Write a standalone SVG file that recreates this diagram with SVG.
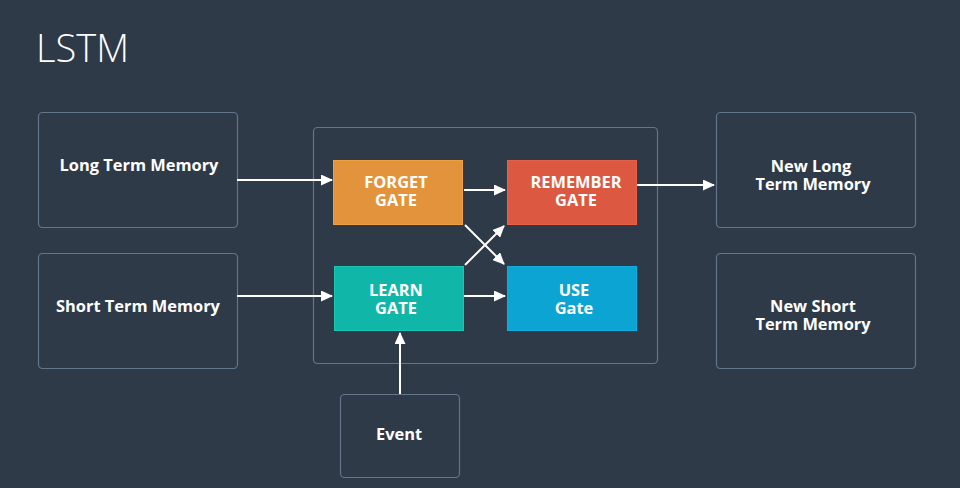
<svg xmlns="http://www.w3.org/2000/svg" width="960" height="488" viewBox="0 0 960 488">
<defs>
<marker id="ah" markerWidth="12" markerHeight="11" refX="11" refY="5.5" orient="auto" markerUnits="userSpaceOnUse" viewBox="0 0 12 11">
<path d="M0,0 L12,5.5 L0,11 z" fill="#ffffff"/>
</marker>
<style>
.box{fill:#2f3a48;stroke:#62758a;stroke-width:1.2}
.lbl{font-family:"Open Sans","Liberation Sans",sans-serif;font-weight:700;font-size:16.4px;fill:#ffffff;text-anchor:middle}
.conn{stroke:#ffffff;stroke-width:2;fill:none;marker-end:url(#ah)}
</style>
</defs>
<rect width="960" height="488" fill="#2e3a48"/>
<text x="36" y="62" font-family="'Open Sans','Liberation Sans',sans-serif" font-weight="300" font-size="38" fill="#ffffff">LSTM</text>
<g id="container"><rect class="box" x="313.5" y="127.5" width="344" height="236" rx="4"/></g>
<g id="ltm"><rect class="box" x="38.5" y="112.5" width="199" height="115" rx="4"/><text class="lbl" x="139" y="171">Long Term Memory</text></g>
<g id="stm"><rect class="box" x="38.5" y="253.5" width="199" height="115" rx="4"/><text class="lbl" x="138" y="312">Short Term Memory</text></g>
<g id="newltm"><rect class="box" x="716.5" y="112.5" width="199" height="115" rx="4"/><text class="lbl"><tspan x="811" y="172">New Long</tspan><tspan x="813" y="190">Term Memory</tspan></text></g>
<g id="newstm"><rect class="box" x="716.5" y="253.5" width="199" height="115" rx="4"/><text class="lbl"><tspan x="813" y="312">New Short</tspan><tspan x="813" y="330">Term Memory</tspan></text></g>
<g id="event"><rect class="box" x="340.5" y="394.5" width="119" height="83" rx="4"/><text class="lbl" x="399" y="440">Event</text></g>
<g id="forget"><rect x="333.5" y="160.5" width="129" height="64" fill="#e3933b" stroke="#f0a040"/><text class="lbl"><tspan x="396" y="188">FORGET</tspan><tspan x="396" y="206">GATE</tspan></text></g>
<g id="remember"><rect x="507.5" y="160.5" width="129" height="64" fill="#dc5841" stroke="#e8604a"/><text class="lbl"><tspan x="576" y="188">REMEMBER</tspan><tspan x="576" y="206">GATE</tspan></text></g>
<g id="learn"><rect x="334.5" y="266.5" width="129" height="64" fill="#10b7a8" stroke="#18c8b4"/><text class="lbl"><tspan x="396" y="296">LEARN</tspan><tspan x="396" y="314">GATE</tspan></text></g>
<g id="use"><rect x="507.5" y="266.5" width="129" height="64" fill="#0ca4d3" stroke="#10aee0"/><text class="lbl"><tspan x="574" y="296">USE</tspan><tspan x="574" y="314">Gate</tspan></text></g>
<g id="connectors">
<line class="conn" x1="237" y1="180" x2="332" y2="180"/>
<line class="conn" x1="237" y1="296" x2="332" y2="296"/>
<line class="conn" x1="464" y1="190" x2="505" y2="190"/>
<line class="conn" x1="464" y1="296" x2="505" y2="296"/>
<line class="conn" x1="465" y1="225" x2="504" y2="264"/>
<line class="conn" x1="465" y1="265" x2="504" y2="226"/>
<line class="conn" x1="637" y1="185" x2="714" y2="185"/>
<line class="conn" x1="400" y1="394" x2="400" y2="333"/>
</g>
</svg>
